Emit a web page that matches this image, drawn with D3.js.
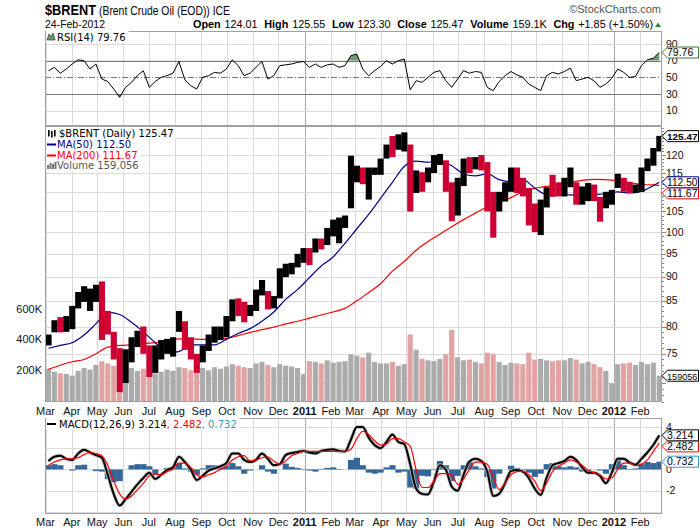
<!DOCTYPE html>
<html>
<head>
<meta charset="utf-8">
<script src="https://cdn.jsdelivr.net/npm/d3@7"></script>
<style>
  body { margin: 0; background: #fff; }
  text { font-family: "Liberation Sans", Arial, sans-serif; }
  .legend { font-family: "DejaVu Sans", Verdana, sans-serif; font-size: 10px; }
</style>
</head>
<body>
<div id="chart"></div>
<script>
// weekly bars, Mar 2010 .. Feb 2012 (one entry per week, Monday start)
const weekHigh = [78.5,81.2,81.8,82.0,84.0,86.8,88.0,87.5,88.3,89.0, 83.0,79.0,76.0,75.8,78.0,79.2,80.0,76.5,76.5,77.5,
  77.7,78.0,83.0,81.0,78.0,75.0,76.5,78.5,80.0,80.0, 82.0,85.3,85.5,84.8,84.2,87.3,89.3,87.0,86.0,91.8,
  92.8,93.0,95.0,96.3,96.3,98.5,98.5,101.0,103.0,103.5, 104.0,119.8,117.0,116.5,116.5,116.5,119.0,123.0,125.5,126.0,
  126.6,123.0,115.7,115.2,116.5,120.0,120.3,118.5,112.5,113.7, 119.0,119.4,119.4,120.0,118.0,110.0,110.0,112.5,116.5,116.5,
  113.7,111.0,107.0,108.0,111.2,114.5,112.5,113.7,116.5,112.5, 111.4,112.3,111.9,108.7,110.0,110.5,114.8,113.7,112.5,111.9,
  116.5,119.0,122.0,125.55];
const weekLow = [76.5,78.9,78.9,79.0,79.5,83.5,84.8,83.0,84.8,77.5, 78.5,74.0,68.5,70.0,73.5,76.2,75.0,71.0,71.7,74.0,
  75.0,74.5,79.0,75.7,74.0,71.7,73.5,75.5,77.0,77.5, 78.0,81.0,82.0,80.8,82.0,83.0,86.1,83.3,83.5,85.5,
  89.9,90.5,92.0,93.0,92.5,95.3,96.0,97.0,99.0,97.4, 101.0,105.8,112.5,112.0,108.0,114.5,114.5,119.0,119.4,121.5,
  121.0,105.0,109.7,110.0,112.5,115.0,117.2,110.0,102.6,104.0, 111.5,115.0,116.0,115.7,105.0,98.7,105.0,107.5,110.0,109.7,
  108.8,101.6,100.0,99.3,106.0,108.7,108.8,108.8,111.2,106.7, 106.7,107.6,107.6,102.5,105.8,106.7,111.0,110.0,109.7,109.7,
  110.0,115.5,117.0,121.0];
const weekClose = [77.5,80.5,79.5,80.5,83.5,85.5,85.5,86.0,87.5,80.0, 78.5,75.0,72.5,72.5,76.0,78.0,76.0,72.0,75.0,76.0,
  76.5,77.5,80.5,76.5,75.0,74.0,76.0,77.5,79.5,79.5, 81.5,84.5,83.5,82.5,83.5,87.0,87.0,84.5,85.0,91.0,
  91.0,92.0,93.5,94.5,94.0,98.0,97.0,100.0,100.5,101.5, 102.5,112.5,116.0,114.0,114.0,115.5,118.5,122.5,121.5,123.5,
  125.5,110.0,113.5,112.0,115.0,116.5,118.5,113.0,105.5,111.5, 118.0,117.0,118.0,117.0,109.0,107.0,108.5,111.5,114.0,113.0,
  112.0,105.0,102.5,106.0,110.5,110.0,109.5,112.5,114.0,107.5, 108.5,109.5,109.0,103.5,107.5,107.5,113.0,111.5,110.5,111.5,
  115.0,117.5,121.0,125.47];
// weekly volume, thousands
const weekVolume = [205,185,175,170,160,190,210,200,230, 255,240,225,230, 200,210,190,205,195, 175,185,200,190,
  215,210,195,190, 210,195,215,205,220, 235,225,215,210, 240,250,230,215, 235,225,220,210,170,
  255,250,240,260, 245,250,255,300, 290,280,310,250,240, 240,250,225,235, 430,330,270,260,
  255,270,300,460,280, 260,265,250,240, 310,300,250,230, 245,240,235,310,265, 270,260,255,260,
  260,275,265,240, 250,235,215,190,110, 235,240,245,230, 250,235,245,159];
// moving averages, sampled every second week plus the last week
const ma50 = [76.0,76.5,77.0,78.4,80.5,82.7,82.3,80.8,79.0,77.0,75.2,75.4,76.6,76.6,76.6,77.6,78.7,79.6,81.0,82.8,
  85.3,87.3,89.8,92.3,94.3,97.4,100.8,104.3,108.3,112.5,116.8,118.3,118.0,118.2,117.0,114.8,114.2,114.8,113.2,112.6,
  113.2,111.0,109.3,109.3,109.2,109.1,109.3,109.5,110.0,109.7,110.1,111.6,112.5];
const ma200 = [72.3,73.0,73.6,74.0,75.0,76.2,76.5,76.6,76.8,77.0,77.3,77.7,77.7,77.6,77.7,77.8,78.3,78.9,79.4,79.9,
  80.5,81.0,81.6,82.2,82.8,83.5,85.0,86.7,88.5,91.2,93.3,95.8,97.8,99.5,101.3,103.0,104.6,106.2,107.3,108.5,
  110.0,110.9,111.4,112.0,112.5,113.0,113.3,113.2,112.9,112.5,111.9,111.8,111.67];
const rsi14 = [58,62,55,60,66,71,70,60,66,48, 45,36,26,38,44,52,58,38,45,50, 52,55,69,47,40,36,50,52,56,55,
  60,71,64,52,55,62,69,48,52,64, 65,66,68,69,62,66,62,65,66,62, 64,76,78,60,52,58,63,70,66,70,
  72,35,46,44,50,56,58,46,38,48, 58,55,57,56,38,34,45,52,57,53, 50,42,38,34,52,56,54,57,61,46,
  48,50,46,38,42,49,60,56,50,51, 64,71,73,79.76];
const macdLine = [0.8,1.2,1.3,1.0,0.9,1.5,1.85,1.6,1.35,1.1, -0.5,-2.3,-3.4,-2.8,-2.1,-1.4,-0.8,-0.3,-0.9,-0.5,
  -0.05,0.2,1.2,0.7,0.0,-1.0,-0.6,-0.1,0.1,0.3, 0.6,1.5,1.5,0.9,0.7,0.9,1.5,1.0,0.4,0.5,
  1.35,1.55,1.65,1.75,1.6,1.5,1.75,1.85,1.9,1.75, 1.7,2.8,4.0,4.0,3.0,2.3,2.0,2.6,3.3,2.6,
  2.4,0.5,-1.8,-2.3,-2.35,-1.15,0.4,0.0,-1.6,-2.0, -0.5,0.75,1.0,0.8,-0.2,-2.5,-2.3,-1.3,-0.15,-0.05,
  -0.2,-0.8,-1.8,-2.4,-0.8,0.4,0.6,0.8,1.2,0.9, 0.2,-0.3,-0.3,-0.6,-1.3,-0.3,1.0,1.0,0.65,0.45,
  1.0,1.6,2.3,3.214];
const macdSignal = [0.4,0.7,0.9,1.0,1.0,1.1,1.4,1.6,1.5,1.3, 0.4,-1.1,-2.3,-2.8,-2.5,-1.9,-1.3,-0.6,-0.45,-0.5,
  -0.2,0.05,0.6,0.6,0.2,-0.5,-0.7,-0.5,-0.3,0.0, 0.3,0.9,1.2,1.3,0.8,0.9,1.1,1.2,0.8,0.5,
  0.8,1.3,1.5,1.7,1.7,1.7,1.7,1.7,1.7,1.7, 1.7,1.9,2.9,3.6,3.3,2.7,2.3,2.4,2.9,2.9,
  2.6,2.2,0.0,-1.7,-1.7,-1.1,-0.4,-0.4,-0.5,-1.4, -0.9,0.0,0.7,0.7,0.5,-0.7,-1.9,-1.3,-0.5,-0.2,
  -0.15,-0.5,-1.1,-2.0,-1.3,-0.2,0.3,0.6,0.9,0.7, 0.4,-0.1,-0.3,-0.5,-0.9,-0.8,0.0,0.6,0.6,0.35,
  0.5,0.9,1.7,2.482];

const priceTicks = [70, 75, 80, 85, 90, 95, 100, 105, 110, 115, 120, 125];
const rsiTicks = [90, 70, 50, 30, 10];
const macdTicks = [4, 2, 0, -2];
const volumeTicks = [200, 400, 600];
const quoteParts = [["Open", "124.01"], ["High", "125.55"], ["Low", "123.30"], ["Close", "125.47"],
  ["Volume", "159.1K"], ["Chg", "+1.85 (+1.50%)"]];

const width = 700, height = 530;
const plotLeft = 45, plotRight = 662;
const rsiTop = 31, rsiBottom = 126, priceTop = 126, priceBottom = 402, macdTop = 418, macdBottom = 514;

const weekStarts = d3.timeMonday.range(new Date(2010, 2, 1), new Date(2012, 1, 25));
const maWeeks = d3.range(0, 104, 2).concat([103]);
const months = d3.timeMonth.range(new Date(2010, 2, 1), new Date(2012, 1, 25));

const x = d3.scaleTime()
  .domain([new Date(2010, 2, 1), new Date(2012, 1, 25)])
  .range([45.5, 660.5]);
const weekX = weekStarts.map(d => (x(d) + x(d3.timeDay.offset(d, 7))) / 2);
const weekW = x(d3.timeDay.offset(weekStarts[0], 7)) - x(weekStarts[0]);
const yPrice = d3.scaleLog().domain([70, 120]).range([383, 155]);
const yVol = d3.scaleLinear().domain([0, 200]).range([400, 369.5]);
const yRsi = d3.scaleLinear().domain([10, 90]).range([110.7, 44]);
const yMacd = d3.scaleLinear().domain([-2, 4]).range([490.7, 427]);

// value tags shown on the right axis
const tagHalf = 5.5;
const tags = [
  { y: yRsi(79.76), label: "79.76", color: "#3c7a3c", bold: false },
  { y: yPrice(125.47), label: "125.47", color: "#000", bold: true },
  { y: yPrice(112.5) + 11, label: "111.67", color: "#ff0000", bold: false },
  { y: yPrice(112.5), label: "112.50", color: "#000088", bold: false },
  { y: yVol(159.056), label: "159056", color: "#000", bold: false },
  { y: yMacd(3.214) + 11, label: "2.482", color: "#ff0000", bold: false },
  { y: yMacd(3.214), label: "3.214", color: "#000", bold: false },
  { y: yMacd(0.732), label: "0.732", color: "#3399cc", bold: false }
];
const hiddenByTag = y => tags.some(t => Math.abs(t.y - y) < 7.5);

const svg = d3.select("#chart").append("svg")
  .attr("width", width).attr("height", height);
svg.append("rect").attr("width", width).attr("height", height).attr("fill", "#fff");

const defs = svg.append("defs");
function addClip(id, x0, y0, x1, y1) {
  defs.append("clipPath").attr("id", id).append("rect")
    .attr("x", x0).attr("y", y0).attr("width", x1 - x0).attr("height", y1 - y0);
}
addClip("clip-rsi", plotLeft, rsiTop, plotRight, rsiBottom);
addClip("clip-price", plotLeft + 1, priceTop, plotRight - 1, priceBottom);
addClip("clip-macd", plotLeft + 1, macdTop, plotRight - 1, macdBottom);
addClip("clip-ob", plotLeft, rsiTop, plotRight, yRsi(70));
addClip("clip-os", plotLeft, yRsi(30), plotRight, rsiBottom);

function monthGrid(top, bottom) {
  svg.append("g").selectAll("line").data(months).join("line")
    .attr("x1", d => Math.round(x(d)) + 0.5).attr("x2", d => Math.round(x(d)) + 0.5)
    .attr("y1", top).attr("y2", bottom)
    .attr("stroke", d => d.getMonth() === 0 ? "#a9a9a9" : "#dadada");
}
function hGrid(values, scale, color) {
  svg.append("g").selectAll("line").data(values).join("line")
    .attr("x1", plotLeft).attr("x2", plotRight)
    .attr("y1", d => Math.round(scale(d)) + 0.5).attr("y2", d => Math.round(scale(d)) + 0.5)
    .attr("stroke", color);
}
function rightLabels(values, scale, fmt) {
  svg.append("g").selectAll("text").data(values.filter(v => !hiddenByTag(scale(v)))).join("text")
    .attr("x", plotRight + 4).attr("y", d => scale(d) + 3.5)
    .attr("font-size", 10.5).attr("fill", "#111")
    .text(fmt);
}
function border(top, bottom) {
  svg.append("rect").attr("x", plotLeft + 0.5).attr("y", top + 0.5)
    .attr("width", plotRight - plotLeft - 1).attr("height", bottom - top - 1)
    .attr("fill", "none").attr("stroke", "#a0a0a0");
}

// ---------- header (condensed face squeezed to the reference widths)
const header = svg.append("g");
header.append("text").attr("x", 45).attr("y", 15)
  .attr("font-size", 15).attr("font-weight", "bold")
  .attr("textLength", 51).attr("lengthAdjust", "spacingAndGlyphs").text("$BRENT");
header.append("text").attr("x", 99).attr("y", 15)
  .attr("font-size", 12).attr("textLength", 131).attr("lengthAdjust", "spacingAndGlyphs")
  .text("(Brent Crude Oil (EOD)) ICE");
header.append("text").attr("x", 661).attr("y", 13).attr("text-anchor", "end")
  .attr("font-size", 11).attr("fill", "#555").text("\u00a9StockCharts.com");
header.append("text").attr("x", 45).attr("y", 28)
  .attr("font-size", 11.5).attr("textLength", 60).attr("lengthAdjust", "spacingAndGlyphs")
  .text("24-Feb-2012");
const quote = header.append("text").attr("x", 193).attr("y", 28)
  .attr("font-size", 11.5).attr("textLength", 460).attr("lengthAdjust", "spacingAndGlyphs");
quoteParts.forEach(([label, value], i) => {
  quote.append("tspan").attr("dx", i ? 7 : 0).attr("font-weight", "bold").text(label);
  quote.append("tspan").attr("dx", 4).text(value);
});
header.append("path").attr("d", "M655,27 L658,22.5 L661,27 Z").attr("fill", "#2e8b2e");

// ---------- RSI panel
monthGrid(rsiTop, rsiBottom);
hGrid([90, 10], yRsi, "#dadada");
hGrid([70, 30], yRsi, "#777");
svg.append("line").attr("x1", plotLeft).attr("x2", plotRight)
  .attr("y1", Math.round(yRsi(50)) + 0.5).attr("y2", Math.round(yRsi(50)) + 0.5)
  .attr("stroke", "#777").attr("stroke-dasharray", "6,2,1,2");

const rsiArea = d3.area().x((d, i) => weekX[i]).y1(d => yRsi(d));
svg.append("path").datum(rsi14).attr("clip-path", "url(#clip-ob)")
  .attr("d", rsiArea.y0(yRsi(70))).attr("fill", "#6f9a6f");
svg.append("path").datum(rsi14).attr("clip-path", "url(#clip-os)")
  .attr("d", rsiArea.y0(yRsi(30))).attr("fill", "#b05050");
svg.append("path").datum(rsi14).attr("clip-path", "url(#clip-rsi)")
  .attr("d", d3.line().x((d, i) => weekX[i]).y(d => yRsi(d)))
  .attr("fill", "none").attr("stroke", "#000").attr("stroke-width", 1);

// ---------- price panel
monthGrid(priceTop, priceBottom);
hGrid(priceTicks, yPrice, "#dadada");

const pricePlot = svg.append("g").attr("clip-path", "url(#clip-price)");
const upColor = "#000", downColor = "#cc0033";
const isDown = i => i > 0 && weekClose[i] < weekClose[i - 1];

pricePlot.append("g").selectAll("rect").data(weekVolume).join("rect")
  .attr("x", (d, i) => weekX[i] - weekW / 2 + 0.4).attr("width", weekW - 0.8)
  .attr("y", d => yVol(d)).attr("height", d => yVol(0) - yVol(d) + 3)
  .attr("fill", (d, i) => isDown(i) ? "#e2a3a3" : "#ababab");

const maLine = d3.line().x((d, i) => weekX[maWeeks[i]]).y(d => yPrice(d)).curve(d3.curveMonotoneX);
pricePlot.append("path").datum(ma200).attr("d", maLine)
  .attr("fill", "none").attr("stroke", "#ff0000").attr("stroke-width", 1.2);
pricePlot.append("path").datum(ma50).attr("d", maLine)
  .attr("fill", "none").attr("stroke", "#000088").attr("stroke-width", 1.2);

pricePlot.append("g").selectAll("rect").data(weekClose).join("rect")
  .attr("x", (d, i) => weekX[i] - weekW / 2).attr("width", weekW + 0.2)
  .attr("y", (d, i) => yPrice(weekHigh[i]))
  .attr("height", (d, i) => yPrice(weekLow[i]) - yPrice(weekHigh[i]))
  .attr("fill", (d, i) => isDown(i) ? downColor : upColor);

// right price ticks
svg.append("g").selectAll("line").data(d3.range(67, 129)).join("line")
  .attr("x1", plotRight).attr("x2", d => plotRight + (d % 5 === 0 ? 4 : 2))
  .attr("y1", d => Math.round(yPrice(d)) + 0.5).attr("y2", d => Math.round(yPrice(d)) + 0.5)
  .attr("stroke", "#888");
rightLabels(priceTicks, yPrice, d => d);
rightLabels(rsiTicks, yRsi, d => d);

svg.append("g").selectAll("text").data(volumeTicks).join("text")
  .attr("x", 42).attr("y", d => yVol(d) + 4).attr("text-anchor", "end")
  .attr("font-size", 11).attr("fill", "#111").text(d => d + "K");

// ---------- MACD panel
monthGrid(macdTop, macdBottom);
hGrid([4, 2, 0, -2, -4], yMacd, "#dadada");
const macdPlot = svg.append("g").attr("clip-path", "url(#clip-macd)");
macdPlot.append("g").selectAll("rect").data(macdLine).join("rect")
  .attr("x", (d, i) => weekX[i] - weekW / 2).attr("width", weekW + 0.2)
  .attr("y", (d, i) => yMacd(Math.max(0, d - macdSignal[i])))
  .attr("height", (d, i) => Math.abs(yMacd(d - macdSignal[i]) - yMacd(0)))
  .attr("fill", "#336699");
const macdPath = d3.line().x((d, i) => weekX[i]).y(d => yMacd(d)).curve(d3.curveMonotoneX);
macdPlot.append("path").datum(macdLine).attr("d", macdPath)
  .attr("fill", "none").attr("stroke", "#bbb").attr("stroke-width", 3.6);
macdPlot.append("path").datum(macdLine).attr("d", macdPath)
  .attr("fill", "none").attr("stroke", "#000").attr("stroke-width", 2);
macdPlot.append("path").datum(macdSignal).attr("d", macdPath)
  .attr("fill", "none").attr("stroke", "#ff0000").attr("stroke-width", 1.2);
rightLabels(macdTicks, yMacd, d => d);

// ---------- x axis labels
function monthLabels(y) {
  svg.append("g").selectAll("text").data(months).join("text")
    .attr("x", d => x(d)).attr("y", y).attr("text-anchor", "middle")
    .attr("font-size", 11).attr("fill", "#111")
    .attr("font-weight", d => d.getMonth() === 0 ? "bold" : "normal")
    .text(d => d.getMonth() === 0 ? d.getFullYear() : d3.timeFormat("%b")(d));
}
monthLabels(414.5);
monthLabels(525.5);

border(rsiTop, rsiBottom);
border(priceTop, priceBottom);
border(macdTop, macdBottom);

// ---------- legends
function legendLine(g, xPos, y, parts) {
  const t = g.append("text").attr("class", "legend").attr("x", xPos).attr("y", y);
  parts.forEach(([s, c]) => t.append("tspan").attr("fill", c).text(s));
  const w = t.node().getComputedTextLength();
  g.insert("rect", "text").attr("x", plotLeft + 1).attr("y", y - 9.5)
    .attr("width", xPos + w - plotLeft + 2).attr("height", 12).attr("fill", "#fff");
  return t;
}
const legRsi = svg.append("g");
legendLine(legRsi, 57, 40.5, [["RSI(14) 79.76", "#000"]]);
legRsi.append("path").attr("d", "M47,40 L49,34 L51,37 L53,33 L55,40 Z").attr("fill", "#6f9a6f").attr("stroke", "#333").attr("stroke-width", 0.7);

const legPrice = svg.append("g");
legendLine(legPrice, 59, 136.5, [["$BRENT (Daily) 125.47", "#000"]]);
legendLine(legPrice, 57, 147.5, [["MA(50) 112.50", "#000088"]]);
legendLine(legPrice, 57, 158.5, [["MA(200) 111.67", "#ff0000"]]);
legendLine(legPrice, 57, 169, [["Volume 159,056", "#555"]]);
[48, 51, 54].forEach((bx, k) => legPrice.append("rect").attr("x", bx).attr("y", 130 + (k % 2)).attr("width", 1.6).attr("height", 6.5).attr("fill", "#000"));
legPrice.append("rect").attr("x", 47).attr("y", 143.5).attr("width", 9).attr("height", 2).attr("fill", "#000088");
legPrice.append("rect").attr("x", 47).attr("y", 154.5).attr("width", 9).attr("height", 2).attr("fill", "#ff0000");
[[47, 4], [49.5, 6], [52, 5], [54.5, 7]].forEach(([bx, h]) => legPrice.append("rect").attr("x", bx).attr("y", 169 - h).attr("width", 2).attr("height", h).attr("fill", "#777"));

const legMacd = svg.append("g");
legendLine(legMacd, 59, 427.5, [["MACD(12,26,9) 3.214", "#000"], [", 2.482", "#ff0000"], [", 0.732", "#3399cc"]]);
legMacd.append("rect").attr("x", 47).attr("y", 423).attr("width", 9).attr("height", 2).attr("fill", "#000");

// ---------- value tags
tags.forEach(t => {
  const g = svg.append("g");
  g.append("path")
    .attr("d", `M${plotRight},${t.y} L${plotRight + 5.5},${t.y - tagHalf} H698.5 V${t.y + tagHalf} H${plotRight + 5.5} Z`)
    .attr("fill", "#fff").attr("stroke", t.color).attr("stroke-width", 1);
  const txt = g.append("text").attr("x", plotRight + 5).attr("y", t.y + 3.8)
    .attr("font-size", 10.5).attr("font-weight", t.bold ? "bold" : "normal").attr("fill", "#000").text(t.label);
  const w = txt.node().getComputedTextLength();
  if (w > 30.5) txt.attr("font-size", (10.5 * 30.5 / w).toFixed(2));
});
</script>
</body>
</html>
